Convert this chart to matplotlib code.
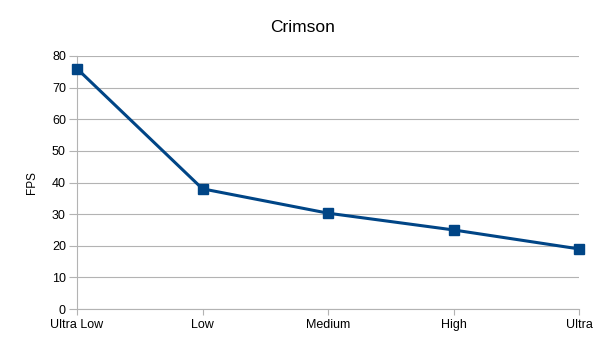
import matplotlib.pyplot as plt

presets = ["Ultra Low", "Low", "Medium", "High", "Ultra"]
fps = [76, 38, 30.3, 25, 19]
y_ticks = [0, 10, 20, 30, 40, 50, 60, 70, 80]

plt.rcParams['font.family'] = ['Liberation Sans', 'DejaVu Sans']

fig = plt.figure(figsize=(6.05, 3.4), dpi=100)
ax = fig.add_axes([77 / 605, 31 / 340, 502 / 605, 253 / 340])

grid_col = '#b3b3b3'
x = list(range(len(presets)))
ax.plot(x, fps, color='#004586', linewidth=2.2, marker='s', markersize=7.5,
        clip_on=False, zorder=3)

ax.set_xlim(0, len(presets) - 1)
ax.set_ylim(0, 80)
ax.set_yticks(y_ticks)
ax.set_xticks(x)
ax.set_xticklabels(presets)
ax.yaxis.grid(True, color=grid_col, linewidth=0.8)
ax.set_axisbelow(True)

for side in ['top', 'right']:
    ax.spines[side].set_visible(False)
for side in ['left', 'bottom']:
    ax.spines[side].set_color(grid_col)
    ax.spines[side].set_linewidth(0.8)

ax.tick_params(axis='y', length=6, width=0.8, color=grid_col, labelsize=9, pad=2)
ax.tick_params(axis='x', length=4, width=0.8, color=grid_col, labelsize=9, pad=3)

ax.set_ylabel('FPS', fontsize=8.5, labelpad=10)
fig.text(0.5, 0.918, 'Crimson', ha='center', va='center', fontsize=12.5)

fig.savefig('out.png', dpi=100)
